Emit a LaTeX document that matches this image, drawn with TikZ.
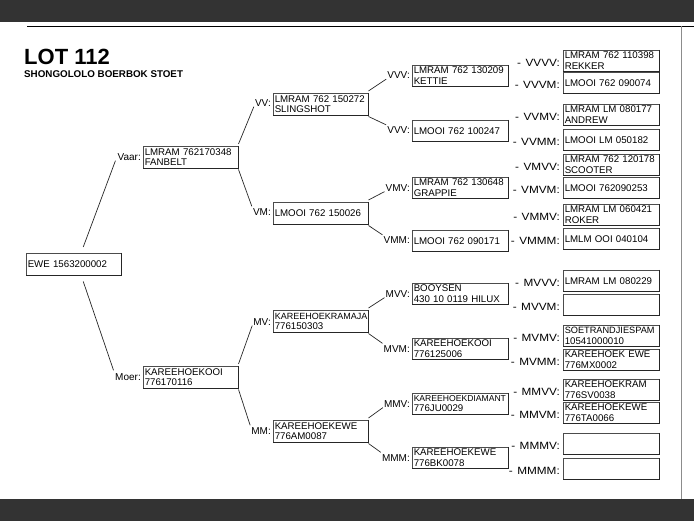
\documentclass[tikz,border=0pt]{standalone}
\usepackage{fontspec}
\setmainfont{Liberation Sans}
\newcommand\pedfont{\fontsize{9.7}{10.3}\selectfont}
\newcommand\pedlab{\fontsize{10}{11}\selectfont}
\begin{document}
\begin{tikzpicture}[x=1pt,y=-1pt,
  pbox/.style={draw=black!70, line width=0.5pt, rectangle, anchor=north west,
    minimum height=21pt, text width=93pt, inner xsep=1.5pt, inner ysep=0pt,
    align=left, font=\pedfont},
  nbox/.style={pbox, text width=92pt, minimum height=22pt},
  plab/.style={anchor=east, inner sep=0pt, font=\pedlab},
  flab/.style={anchor=east, inner sep=0pt, font=\fontsize{10.5}{11}\selectfont},
  conn/.style={draw=black!85, line width=0.7pt},
  shade/.style={draw=black!85, line width=1pt}]
\useasboundingbox (0,0) rectangle (694,521);
% frame
\fill[black!80] (0,0) rectangle (694,22);
\fill[black!80] (0,499) rectangle (694,521);
\draw[black, line width=1.3pt] (27,26.5) -- (694,26.5);
\draw[black!45, line width=0.8pt] (681,26) -- (681,499);
% title
\node[anchor=base west, inner sep=0pt, font=\bfseries\fontsize{22}{22}\selectfont] (title) at (24,65) {LOT 112};
\node[anchor=base west, inner sep=0pt, font=\bfseries\fontsize{9.8}{10}\selectfont] (sub) at (24,77.5) {SHONGOLOLO BOERBOK STOET};
% generation 0-2
\node[nbox] (EWE) at (26,253) {EWE 1563200002};
\node[nbox] (Vaar) at (143,146) {LMRAM 762170348\\FANBELT};
\node[nbox] (Moer) at (143,366) {KAREEHOEKOOI\\776170116};
\node[nbox] (VV) at (273,93) {LMRAM 762 150272\\SLINGSHOT};
\node[nbox] (VM) at (273,202) {LMOOI 762 150026};
\node[nbox] (MV) at (273,310) {{\fontsize{9}{10.3}\selectfont KAREEHOEKRAMAJA}\\776150303};
\node[nbox] (MM) at (273,420) {KAREEHOEKEWE\\776AM0087};
% generation 3
\node[pbox] (VVV) at (412,65) {LMRAM 762 130209\\KETTIE};
\node[pbox] (VVM) at (412,120) {LMOOI 762 100247};
\node[pbox] (VMV) at (412,177) {LMRAM 762 130648\\GRAPPIE};
\node[pbox] (VMM) at (412,230) {LMOOI 762 090171};
\node[pbox] (MVV) at (412,283) {BOOYSEN\\430 10 0119 HILUX};
\node[pbox] (MVM) at (412,338) {KAREEHOEKOOI\\776125006};
\node[pbox] (MMV) at (412,393) {{\fontsize{8.6}{10.3}\selectfont KAREEHOEKDIAMANT}\\776JU0029};
\node[pbox] (MMM) at (412,447) {KAREEHOEKEWE\\776BK0078};
% generation 4
\node[pbox] (VVVV) at (563,50) {LMRAM 762 110398\\REKKER};
\node[pbox] (VVVM) at (563,72) {LMOOI 762 090074};
\node[pbox] (VVMV) at (563,104) {LMRAM LM 080177\\ANDREW};
\node[pbox] (VVMM) at (563,129) {LMOOI LM 050182};
\node[pbox] (VMVV) at (563,154) {LMRAM 762 120178\\SCOOTER};
\node[pbox] (VMVM) at (563,177) {LMOOI 762090253};
\node[pbox] (VMMV) at (563,204) {LMRAM LM 060421\\ROKER};
\node[pbox] (VMMM) at (563,228) {LMLM OOI 040104};
\node[pbox] (MVVV) at (563,270) {LMRAM LM 080229};
\node[pbox] (MVVM) at (563,294) {};
\node[pbox] (MVMV) at (563,325) {{\fontsize{9.2}{10.3}\selectfont SOETRANDJIESPAM}\\10541000010};
\node[pbox] (MVMM) at (563,349) {KAREEHOEK EWE\\776MX0002};
\node[pbox] (MMVV) at (563,379) {KAREEHOEKRAM\\776SV0038};
\node[pbox] (MMVM) at (563,402) {KAREEHOEKEWE\\776TA0066};
\node[pbox] (MMMV) at (563,433) {};
\node[pbox] (MMMM) at (563,458) {};
% shadows
\foreach \n in {EWE,Vaar,Moer,VV,VM,MV,MM,VVV,VVM,VMV,VMM,MVV,MVM,MMV,MMM,
  VVVV,VVVM,VVMV,VVMM,VMVV,VMVM,VMMV,VMMM,MVVV,MVVM,MVMV,MVMM,MMVV,MMVM,MMMV,MMMM}
  \draw[shade] (\n.north east) -- (\n.south east) -- (\n.south west);
% labels
\node[plab] (lVaar) at (141,157) {Vaar:};
\node[plab] (lMoer) at (141,377) {Moer:};
\node[plab] (lVV) at (271,103) {VV:};
\node[plab] (lVM) at (271,212) {VM:};
\node[plab] (lMV) at (271,322) {MV:};
\node[plab] (lMM) at (271,431) {MM:};
\node[plab] (lVVV) at (410,75.5) {VVV:};
\node[plab] (lVVM) at (410,130.5) {VVV:};
\node[plab] (lVMV) at (410,188) {VMV:};
\node[plab] (lVMM) at (410,240.5) {VMM:};
\node[plab] (lMVV) at (410,294) {MVV:};
\node[plab] (lMVM) at (410,349) {MVM:};
\node[plab] (lMMV) at (410,404) {MMV:};
\node[plab] (lMMM) at (410,458) {MMM:};
\foreach \n/\t in {VVVV/VVVV,VVVM/VVVM,VVMV/VVMV,VVMM/VVMM,VMVV/VMVV,VMVM/VMVM,VMMV/VMMV,VMMM/VMMM,
  MVVV/MVVV,MVVM/MVVM,MVMV/MVMV,MVMM/MVMM,MMVV/MMVV,MMVM/MMVM,MMMV/MMMV,MMMM/MMMM}
  \node[flab] (l\n) at ([xshift=-3pt,yshift=-2pt]\n.west) {\scalebox{1.12}[1]{-\hspace{4pt}\t:}};
% connectors
\draw[conn] ([xshift=9.5pt,yshift=6pt]EWE.north) -- ([xshift=-2pt]lVaar.south west);
\draw[conn] ([xshift=9.5pt,yshift=-6pt]EWE.south) -- ([xshift=-1.5pt,yshift=3pt]lMoer.north west);
\foreach \p/\a/\b in {Vaar/VV/VM, Moer/MV/MM, VV/VVV/VVM, VM/VMV/VMM, MV/MVV/MVM, MM/MMV/MMM} {
  \draw[conn] ([yshift=2pt]\p.north east) -- ([xshift=-1pt]l\a.south west);
  \draw[conn] ([yshift=-1pt]\p.south east) -- ([xshift=-1pt,yshift=2pt]l\b.north west);
}
\end{tikzpicture}
\end{document}
